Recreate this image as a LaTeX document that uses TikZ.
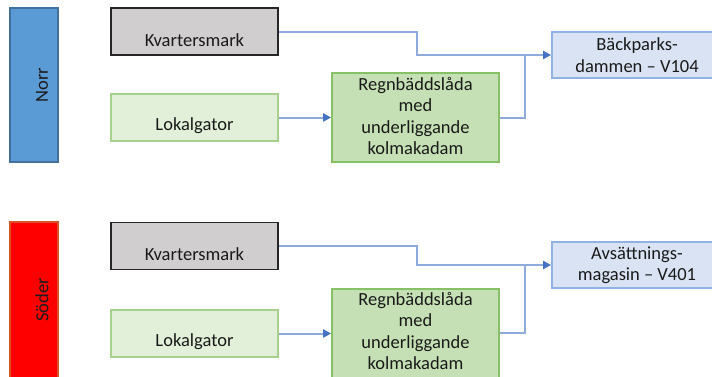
\documentclass[tikz,border=0pt]{standalone}
\usepackage{fontspec}
\setmainfont{Carlito}
\usetikzlibrary{arrows.meta}
\definecolor{norrfill}{HTML}{5B9BD5}
\definecolor{norrdraw}{HTML}{41719C}
\definecolor{soderfill}{HTML}{FF0000}
\definecolor{soderdraw}{HTML}{D9541E}
\definecolor{kvfill}{HTML}{D0CECE}
\definecolor{kvdraw}{HTML}{262626}
\definecolor{lgfill}{HTML}{E2F0D9}
\definecolor{lgdraw}{HTML}{A9D18E}
\definecolor{rgfill}{HTML}{C5E0B4}
\definecolor{rgdraw}{HTML}{88C065}
\definecolor{bpfill}{HTML}{DAE3F3}
\definecolor{bpdraw}{HTML}{8FB4E3}
\definecolor{linec}{HTML}{8FAADC}
\definecolor{arrowc}{HTML}{4472C4}
\definecolor{txt}{HTML}{1A1A1A}
\begin{document}
\begin{tikzpicture}[x=1pt,y=-1pt,
  every node/.style={font=\fontsize{18.5}{21.5}\selectfont, text=txt},
  box/.style={inner sep=0pt, line width=1.8pt},
  bar/.style={box, minimum width=48pt, minimum height=154pt},
  kvbox/.style={box, fill=kvfill, draw=kvdraw, minimum width=167pt, minimum height=47pt},
  lgbox/.style={box, fill=lgfill, draw=lgdraw, minimum width=167pt, minimum height=47pt},
  rgbox/.style={box, fill=rgfill, draw=rgdraw, minimum width=167pt, minimum height=89pt, align=center},
  bpbox/.style={box, fill=bpfill, draw=bpdraw, minimum width=170pt, minimum height=46pt, align=center},
  lbl/.style={inner sep=0pt},
  flow/.style={draw=linec, line width=2pt},
  flowarr/.style={flow, -{Triangle[length=8pt,width=8pt,color=arrowc]}}
]
\useasboundingbox (0,0) rectangle (712,376);

% Norr section
\node[bar, fill=norrfill, draw=norrdraw] (norr) at (34,85) {};
\node[lbl, rotate=90] (norrt) at (42,85) {Norr};
\node[kvbox] (kv1) at (194.5,31.5) {};
\node[lbl] (kv1t) at (194.5,40) {Kvartersmark};
\node[lgbox] (lg1) at (194.5,117.5) {};
\node[lbl] (lg1t) at (194.5,125.5) {Lokalgator};
\node[rgbox] (rg1) at (415.5,117.5) {};
\node[lbl, align=center] (rg1t) at (415.5,116) {Regnbäddslåda\\med\\underliggande\\kolmakadam};
\node[bpbox] (bp) at (637,55) {Bäckparks-\\dammen – V104};

\draw[flowarr] (kv1.east) -- ++(138,0) |- (bp.west);
\draw[flow] (rg1.east) -| ([xshift=-26pt]bp.west);
\draw[flowarr] (lg1.east) -- (rg1.west |- lg1.east);

% Söder section
\node[bar, fill=soderfill, draw=soderdraw, minimum height=158pt] (soder) at (34,301) {};
\node[lbl, rotate=90] (sodert) at (42,300) {Söder};
\node[kvbox] (kv2) at (194.5,246) {};
\node[lbl] (kv2t) at (194.5,254) {Kvartersmark};
\node[lgbox] (lg2) at (194.5,333.5) {};
\node[lbl] (lg2t) at (194.5,341.5) {Lokalgator};
\node[rgbox, minimum height=90pt] (rg2) at (415.5,334) {};
\node[lbl, align=center] (rg2t) at (415.5,331) {Regnbäddslåda\\med\\underliggande\\kolmakadam};
\node[bpbox] (av) at (637,265) {Avsättnings-\\magasin – V401};

\draw[flowarr] (kv2.east) -- ++(138,0) |- (av.west);
\draw[flow] (rg2.east |- 0,333) -| ([xshift=-26pt]av.west);
\draw[flowarr] (lg2.east) -- (rg2.west |- lg2.east);
\end{tikzpicture}
\end{document}
